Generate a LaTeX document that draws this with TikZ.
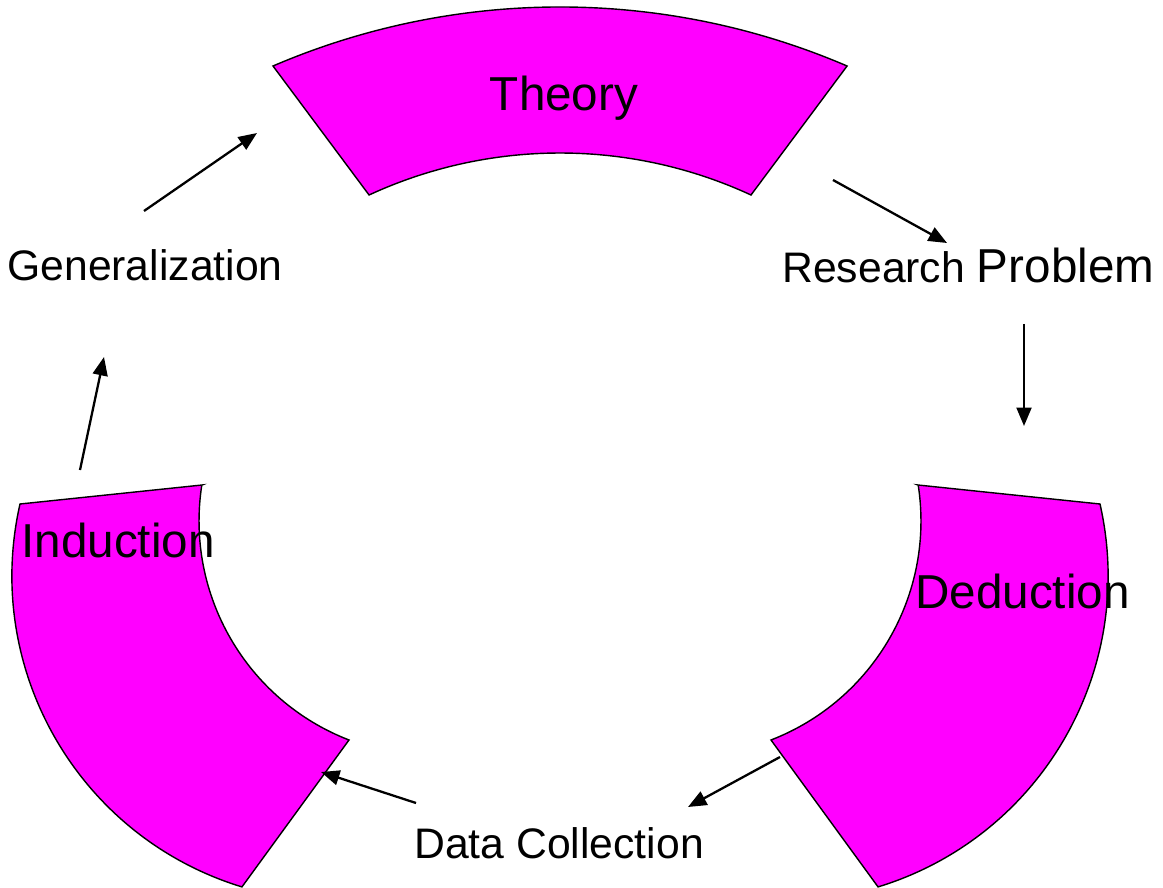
\documentclass[tikz,border=0pt]{standalone}
\usepackage{fontspec}
\setmainfont{Liberation Sans}
\usepackage{tikz}
\usetikzlibrary{arrows.meta, calc}
\definecolor{blockpink}{RGB}{255,0,255}
\tikzset{
    >={Triangle[length=10.5pt, width=8.5pt]},
    block/.style={fill=blockpink, draw=black, line width=0.8pt},
    bigtext/.style={font=\fontsize{27.1}{32}\selectfont, inner sep=0pt, anchor=base west},
    smalltext/.style={bigtext, font=\fontsize{24.3}{28}\selectfont},
    flow/.style={->, line width=1.3pt},
}
\begin{document}
\begin{tikzpicture}[x=0.02cm, y=-0.02cm]
        \useasboundingbox (0,0) rectangle (1163,888);
        % the three block arcs
        \filldraw[block] (273,66) arc[start angle=-113.24, end angle=-66.76, radius=727.5]
            -- (751,195) arc[start angle=-65.2, end angle=-114.8, radius=455.3] -- cycle;
        \filldraw[block] (918,485) -- (1100,504) arc[start angle=-12.8, end angle=73, radius=325.1]
            -- (771,740) arc[start angle=68.8, end angle=-8.8, radius=234.9] -- cycle;
        \filldraw[block] (202,485) -- (20,504) arc[start angle=192.8, end angle=107, radius=325.1]
            -- (349,740) arc[start angle=111.2, end angle=188.8, radius=234.9] -- cycle;
        \node[bigtext, anchor=base] (theory) at (564,111) {Theory};
        \node[bigtext] (induction) at (21,557) {Induction};
        \node[bigtext] (deduction) at (915,608) {Deduction};
        \node[smalltext] (gen) at (7,281) {Generalization};
        \node[smalltext] (rp) at (782,283) {Research {\fontsize{27.1}{32}\selectfont Problem}};
        \node[smalltext] (data) at (414,858) {Data Collection};
        % arrow ends
        \coordinate (g1) at (144,211); \coordinate (g2) at (257,133);
        \coordinate (t1) at (833,180); \coordinate (t2) at (947,243);
        \coordinate (r1) at (1024,324); \coordinate (r2) at (1024,426);
        \coordinate (d1) at (780,757); \coordinate (d2) at (688,807);
        \coordinate (c1) at (416,803); \coordinate (c2) at (321,772);
        \coordinate (i1) at (80,470); \coordinate (i2) at (104,357);
        \foreach \a/\b in {g1/g2, t1/t2, r1/r2, d1/d2, c1/c2, i1/i2}
            \draw[flow] (\a) -- (\b);
\end{tikzpicture}
\end{document}
